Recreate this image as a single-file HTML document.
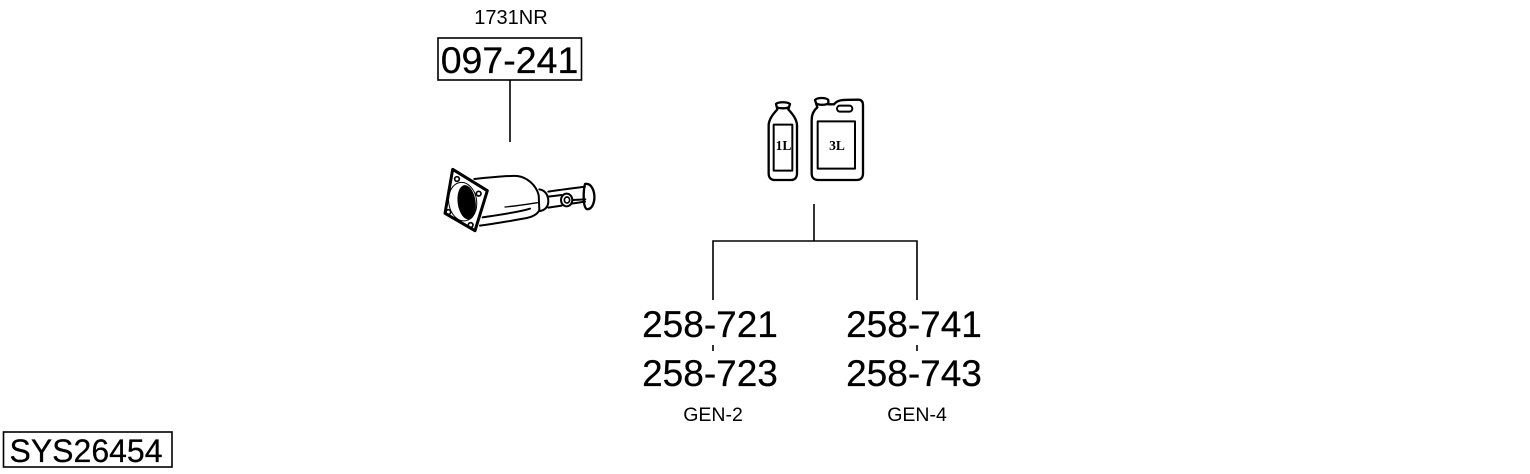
<!DOCTYPE html>
<html>
<head>
<meta charset="utf-8">
<style>
html,body{margin:0;padding:0;background:#fff;width:1530px;height:474px;overflow:hidden}
svg{display:block}
text{font-family:"Liberation Sans",sans-serif;fill:#000;stroke:#000;stroke-width:.25}
</style>
</head>
<body>
<svg width="1530" height="474" viewBox="0 0 1530 474" xmlns="http://www.w3.org/2000/svg">
<g fill="none" stroke="#000" stroke-width="1.6">
<rect x="438" y="38" width="143.500" height="42"/>
<rect x="3.500" y="432" width="168.500" height="35"/>
<path d="M510 80V142M814 204V241M713 300V241H917V300M713 345V351M917 345V351"/>
</g>
<text x="511" y="24" font-size="20" text-anchor="middle" style="stroke-width:0">1731NR</text>
<text x="509.500" y="73" font-size="37.500" text-anchor="middle">097-241</text>
<text x="86" y="462" font-size="32" text-anchor="middle">SYS26454</text>
<text x="710" y="337" font-size="37" text-anchor="middle">258-721</text>
<text x="710" y="386" font-size="37" text-anchor="middle">258-723</text>
<text x="914" y="337" font-size="37" text-anchor="middle">258-741</text>
<text x="914" y="386" font-size="37" text-anchor="middle">258-743</text>
<text x="713" y="421" font-size="19.500" text-anchor="middle" style="stroke-width:0">GEN-2</text>
<text x="917" y="421" font-size="19.500" text-anchor="middle" style="stroke-width:0">GEN-4</text>

<!-- catalyst -->
<g transform="translate(430 160) scale(.33333)" fill="none" stroke="#000" stroke-width="6" stroke-linejoin="round" stroke-linecap="round">
<path d="M133 57C180 52 235 46 262 48C292 52 318 75 326 105L328 150C322 165 305 172 280 176C235 184 190 192 150 197"/>
<path d="M158 172C205 165 260 158 300 146"/>
<path d="M225 141C260 138 290 133 322 128" stroke-width="4"/>
<path d="M328 88C345 90 355 105 355 125C354 140 345 150 330 153"/>
<path d="M355 95C385 90 430 85 465 80M355 143L395 137M425 131L465 125M355 110L395 105M428 120L466 118"/>
<path d="M465 72C485 68 495 95 493 118C490 140 480 150 470 147C458 140 460 90 465 72Z" stroke-width="7"/>
<ellipse cx="410" cy="120" rx="17" ry="19" fill="#fff" stroke-width="6"/>
<ellipse cx="411" cy="120" rx="8" ry="9" stroke-width="5"/>
<path d="M68 28L172 92L135 212L45 160Z" fill="#fff" stroke-width="9"/>
<ellipse cx="98" cy="125" rx="42" ry="58" transform="rotate(-8 98 125)" stroke-width="3"/>
<ellipse cx="110" cy="127" rx="27" ry="52" transform="rotate(-8 110 127)" fill="#000" stroke="none"/>
<circle cx="81" cy="57" r="7" stroke-width="5"/>
<circle cx="146" cy="101" r="7" stroke-width="5"/>
<circle cx="122" cy="195" r="7" stroke-width="5"/>
<circle cx="55" cy="156" r="7" stroke-width="5"/>
</g>

<!-- bottles -->
<g transform="translate(760 90) scale(.33333)" fill="none" stroke="#000" stroke-width="7" stroke-linejoin="round">
<path d="M48 42C55 35 82 35 90 42L85 58C95 70 110 85 111 105V250C111 262 105 270 92 270H45C32 270 26 262 26 250V105C27 85 42 70 52 58Z"/>
<path d="M50 52C60 56 78 56 86 52"/>
<rect x="41" y="104" width="56" height="138" stroke-width="6"/>
<path d="M165 30C172 22 198 22 205 30L205 43H222C232 30 240 29 295 29C305 29 309 36 309 46V250C309 263 302 270 290 270H175C162 270 155 263 155 250V90C155 75 160 62 172 52Z"/>
<path d="M168 40C178 46 195 46 205 40"/>
<rect x="231" y="47" width="46" height="18" rx="9" stroke-width="6"/>
<rect x="173" y="94" width="112" height="142" stroke-width="6"/>
</g>
<text x="783.500" y="150" font-size="13.500" font-weight="bold" text-anchor="middle" style="font-family:'Liberation Serif',serif;stroke-width:0">1L</text>
<text x="837" y="150" font-size="13.500" font-weight="bold" text-anchor="middle" style="font-family:'Liberation Serif',serif;stroke-width:0">3L</text>
</svg>
</body>
</html>
